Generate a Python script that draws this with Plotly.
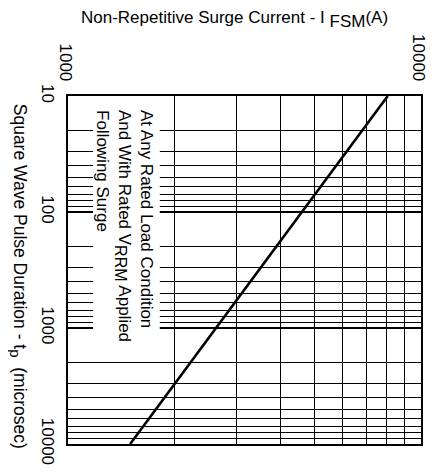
import plotly.graph_objects as go

# Data
pulse_us = [10, 100, 1000, 10000]          # square wave pulse duration tp (microsec)
surge_a = [8050, 4600, 2630, 1500]         # non-repetitive surge current IFSM (A)

x_ticks = [1000, 10000]
x_ticklabels = ["1000", "10000"]
x_minor = [2000, 3000, 4000, 5000, 6000, 7000, 8000, 9000]

y_ticks = [10, 100, 1000, 10000]
y_ticklabels = ["10", "100", "1000", "10000"]
y_minor = [m * d for d in (10, 100, 1000) for m in range(2, 10)]

FONT = "Arial, Liberation Sans, sans-serif"
FS = 17

X_RANGE = (3, 4)      # log10 range of current axis
Y_RANGE = (4, 1)      # log10 range of duration axis (reversed)


def xd(d):
    """x axis domain fraction -> data value"""
    return 10 ** (X_RANGE[0] + (X_RANGE[1] - X_RANGE[0]) * d)


def yd(d):
    """y axis domain fraction (0 bottom) -> data value"""
    return 10 ** (Y_RANGE[0] + (Y_RANGE[1] - Y_RANGE[0]) * d)


fig = go.Figure()

# white backing box for the note (covers grid lines)
bx0, bx1, by0, by1 = 0.071, 0.26, 0.327, 1.0
fig.add_trace(go.Scatter(
    x=[xd(bx0), xd(bx1), xd(bx1), xd(bx0), xd(bx0)],
    y=[yd(by1), yd(by1), yd(by0), yd(by0), yd(by1)],
    mode="lines", fill="toself", fillcolor="white",
    line=dict(color="rgba(0,0,0,0)", width=0),
    hoverinfo="skip", showlegend=False,
))

fig.add_trace(go.Scatter(
    x=surge_a, y=pulse_us, mode="lines",
    line=dict(color="black", width=2.6), showlegend=False,
))

# page body has an 8px margin, so the figure is sized/placed to compensate
fig.update_layout(
    width=429, height=465,
    margin=dict(l=60, r=16, t=88, b=29),
    paper_bgcolor="white", plot_bgcolor="white",
    font=dict(family=FONT, size=FS, color="black"),
    xaxis=dict(
        type="log", range=list(X_RANGE), side="top",
        tickmode="array", tickvals=x_ticks, ticktext=x_ticklabels,
        tickangle=90, ticks="", ticklabelstandoff=7, ticklabelshift=-2,
        showgrid=True, gridcolor="black", gridwidth=1,
        minor=dict(tickvals=x_minor, showgrid=True, gridcolor="black", gridwidth=1, ticks=""),
        showline=True, linecolor="black", linewidth=1.5, mirror=True,
        zeroline=False, fixedrange=True, automargin=False,
    ),
    yaxis=dict(
        type="log", range=list(Y_RANGE),
        tickmode="array", tickvals=y_ticks, ticktext=y_ticklabels,
        tickangle=90, ticks="", ticklabelstandoff=4,
        showgrid=True, gridcolor="black", gridwidth=2,
        minor=dict(tickvals=y_minor, showgrid=True, gridcolor="black", gridwidth=1, ticks=""),
        showline=True, linecolor="black", linewidth=1.5, mirror=True,
        zeroline=False, fixedrange=True, automargin=False,
    ),
)

fig.add_annotation(
    xref="paper", yref="paper", x=0.1615, y=0.9655,
    xanchor="center", yanchor="top", textangle=90, align="left",
    text="At Any Rated Load Condition<br>And With Rated V<sub><span style='font-size:16px'>RRM</span></sub> Applied<br>Following Surge",
    showarrow=False, font=dict(family=FONT, size=FS),
)

fig.add_annotation(
    xref="paper", yref="paper", x=0.472, y=1 + (96 - 20) / 348,
    xanchor="center", yanchor="middle",
    text="Non-Repetitive Surge Current - I <sub><span style='font-size:17px'>FSM</span></sub>(A)",
    showarrow=False, font=dict(family=FONT, size=FS),
)

fig.add_annotation(
    xref="paper", yref="paper", x=(18 - 68) / 353, y=0.4835,
    xanchor="center", yanchor="middle", textangle=90,
    text="Square Wave Pulse Duration - t<sub><span style='font-size:15px'>p</span></sub>  (microsec)",
    showarrow=False, font=dict(family=FONT, size=17.5),
)

fig.write_html("out.html")
